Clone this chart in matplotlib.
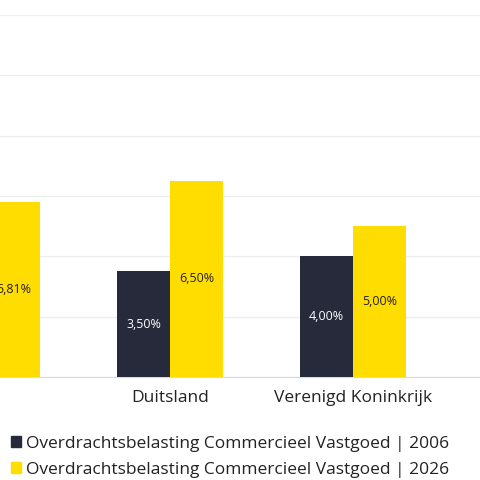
import matplotlib
matplotlib.use("Agg")
import matplotlib.pyplot as plt
from matplotlib.patches import Patch

plt.rcParams["font.family"] = ["Open Sans", "DejaVu Sans"]

categories = ["Frankrijk", "Duitsland", "Verenigd Koninkrijk"]
rate_2006 = [5.09, 3.50, 4.00]
rate_2026 = [5.81, 6.50, 5.00]
series_names = ["Overdrachtsbelasting Commercieel Vastgoed | 2006",
                "Overdrachtsbelasting Commercieel Vastgoed | 2026"]
DARK, YELLOW = "#262a3b", "#ffdd00"

fig = plt.figure(figsize=(4.8, 4.8), dpi=100)
ax = fig.add_axes([0, 0.2146, 1, 0.7542])
w = 0.29
x = range(len(categories))
b1 = ax.bar([i - w / 2 for i in x], rate_2006, w, color=DARK, zorder=3)
b2 = ax.bar([i + w / 2 for i in x], rate_2026, w, color=YELLOW, zorder=3)
for bars, vals, col in [(b1, rate_2006, "white"), (b2, rate_2026, "#222222")]:
    for r, v in zip(bars, vals):
        ax.text(r.get_x() + r.get_width() / 2, v / 2, f"{v:.2f}%".replace(".", ","),
                ha="center", va="center", color=col, fontsize=9, zorder=4)

ax.set_xticks(list(x))
ax.set_xticklabels(categories, fontsize=12.5, color="#222222")
ax.set_yticks(range(0, 13, 2))
ax.set_xlim(0.071, 2.694)
ax.set_ylim(0, 12)
ax.yaxis.grid(True, color="#eeeeee", lw=1, zorder=0)
ax.tick_params(left=False, bottom=False, labelleft=False)
ax.tick_params(axis="x", pad=6)
for s in ["left", "right", "top"]:
    ax.spines[s].set_visible(False)
ax.spines["bottom"].set_color("#d9d9d9")

handles = [Patch(color=DARK), Patch(color=YELLOW)]
fig.legend(handles, series_names, loc="upper left", bbox_to_anchor=(-0.01, 0.125),
           frameon=False, fontsize=12.5, handlelength=0.6, handleheight=0.6,
           handletextpad=0.3, labelspacing=0.6, labelcolor="#222222")

fig.savefig("out.png", dpi=100)
